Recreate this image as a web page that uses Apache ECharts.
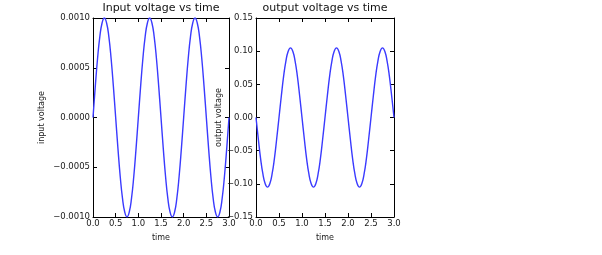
<!DOCTYPE html>
<html><head><meta charset="utf-8">
<script src="https://cdn.jsdelivr.net/npm/echarts@6/dist/echarts.min.js"></script>
<style>html,body{margin:0;padding:0;background:#fff}#c{width:602px;height:255px}</style>
</head><body><div id="c"></div>
<script>
var time = [0.00,0.05,0.10,0.15,0.20,0.25,0.30,0.35,0.40,0.45,0.50,0.55,0.60,0.65,0.70,0.75,0.80,0.85,0.90,0.95,
1.00,1.05,1.10,1.15,1.20,1.25,1.30,1.35,1.40,1.45,1.50,1.55,1.60,1.65,1.70,1.75,1.80,1.85,1.90,1.95,
2.00,2.05,2.10,2.15,2.20,2.25,2.30,2.35,2.40,2.45,2.50,2.55,2.60,2.65,2.70,2.75,2.80,2.85,2.90,2.95,3.00];
var inputVoltage = [0,0.00031,0.00059,0.00081,0.00095,0.00100,0.00095,0.00081,0.00059,0.00031,0,-0.00031,-0.00059,-0.00081,-0.00095,-0.00100,-0.00095,-0.00081,-0.00059,-0.00031,
0,0.00031,0.00059,0.00081,0.00095,0.00100,0.00095,0.00081,0.00059,0.00031,0,-0.00031,-0.00059,-0.00081,-0.00095,-0.00100,-0.00095,-0.00081,-0.00059,-0.00031,
0,0.00031,0.00059,0.00081,0.00095,0.00100,0.00095,0.00081,0.00059,0.00031,0,-0.00031,-0.00059,-0.00081,-0.00095,-0.00100,-0.00095,-0.00081,-0.00059,-0.00031,0];
var outputVoltage = [0,-0.032,-0.062,-0.085,-0.100,-0.105,-0.100,-0.085,-0.062,-0.032,0,0.032,0.062,0.085,0.100,0.105,0.100,0.085,0.062,0.032,
0,-0.032,-0.062,-0.085,-0.100,-0.105,-0.100,-0.085,-0.062,-0.032,0,0.032,0.062,0.085,0.100,0.105,0.100,0.085,0.062,0.032,
0,-0.032,-0.062,-0.085,-0.100,-0.105,-0.100,-0.085,-0.062,-0.032,0,0.032,0.062,0.085,0.100,0.105,0.100,0.085,0.062,0.032,0];
var titles = ['Input voltage vs time', 'output voltage vs time'];
var yNames = ['input voltage', 'output voltage'];
var xName = 'time';

var font = 'DejaVu Sans';
var lineColor = '#3a3aff';
function minus(s){ return s.replace('-', '\u2212'); }
function fmtX(v){ return v.toFixed(1); }
var axisLine = {show:true, onZero:false, lineStyle:{color:'#000', width:1}};
var tick = {show:true, inside:true, length:4, lineStyle:{color:'#000'}};
var lbl = {color:'#1a1a1a', fontFamily:font, fontSize:8.5};
var nameStyle = {color:'#1a1a1a', fontFamily:font, fontSize:8};

var grids = [{left:93, top:18, width:136, height:199},{left:256, top:18, width:138, height:199}];
var xAxes = [], yAxes = [];
var yCfg = [{min:-0.001,max:0.001,interval:0.0005,dec:4,gap:47},{min:-0.15,max:0.15,interval:0.05,dec:2,gap:29}];
for (var i=0;i<2;i++){
  xAxes.push({type:'value', gridIndex:i, position:'bottom', min:0, max:3, interval:0.5,
    axisLine:axisLine, axisTick:tick, splitLine:{show:false},
    axisLabel:Object.assign({margin:2, formatter:fmtX, showMinLabel:true, showMaxLabel:true}, lbl),
    name:xName, nameLocation:'middle', nameGap:17, nameTextStyle:nameStyle});
  xAxes.push({type:'value', gridIndex:i, position:'top', min:0, max:3, interval:0.5,
    axisLine:axisLine, axisTick:tick, splitLine:{show:false}, axisLabel:{show:false}});
  (function(c){
  yAxes.push({type:'value', gridIndex:i, position:'left', min:c.min, max:c.max, interval:c.interval,
    axisLine:axisLine, axisTick:tick, splitLine:{show:false},
    axisLabel:Object.assign({margin:3, formatter:function(v){return minus(v.toFixed(c.dec));}, showMinLabel:true, showMaxLabel:true}, lbl),
    name:yNames[i], nameLocation:'middle', nameGap:c.gap, nameRotate:90, nameTextStyle:nameStyle});
  })(yCfg[i]);
  yAxes.push({type:'value', gridIndex:i, position:'right', min:yCfg[i].min, max:yCfg[i].max, interval:yCfg[i].interval,
    axisLine:axisLine, axisTick:tick, splitLine:{show:false}, axisLabel:{show:false}});
}
function pairs(ys){ return time.map(function(t,k){return [t, ys[k]];}); }
var chart = echarts.init(document.getElementById('c'), null, {renderer:'canvas'});
chart.setOption({
  animation:false,
  backgroundColor:'#fff',
  title:[
    {text:titles[0], left:161, top:3, padding:0, textAlign:'center', textStyle:{fontFamily:font, fontSize:11, fontWeight:'normal', color:'#111'}},
    {text:titles[1], left:325, top:3, padding:0, textAlign:'center', textStyle:{fontFamily:font, fontSize:11, fontWeight:'normal', color:'#111'}}
  ],
  grid:grids, xAxis:xAxes, yAxis:yAxes,
  series:[
    {type:'line', xAxisIndex:0, yAxisIndex:0, data:pairs(inputVoltage), smooth:true, showSymbol:false, lineStyle:{color:lineColor, width:1.4}},
    {type:'line', xAxisIndex:2, yAxisIndex:2, data:pairs(outputVoltage), smooth:true, showSymbol:false, lineStyle:{color:lineColor, width:1.4}}
  ]
});
</script></body></html>
